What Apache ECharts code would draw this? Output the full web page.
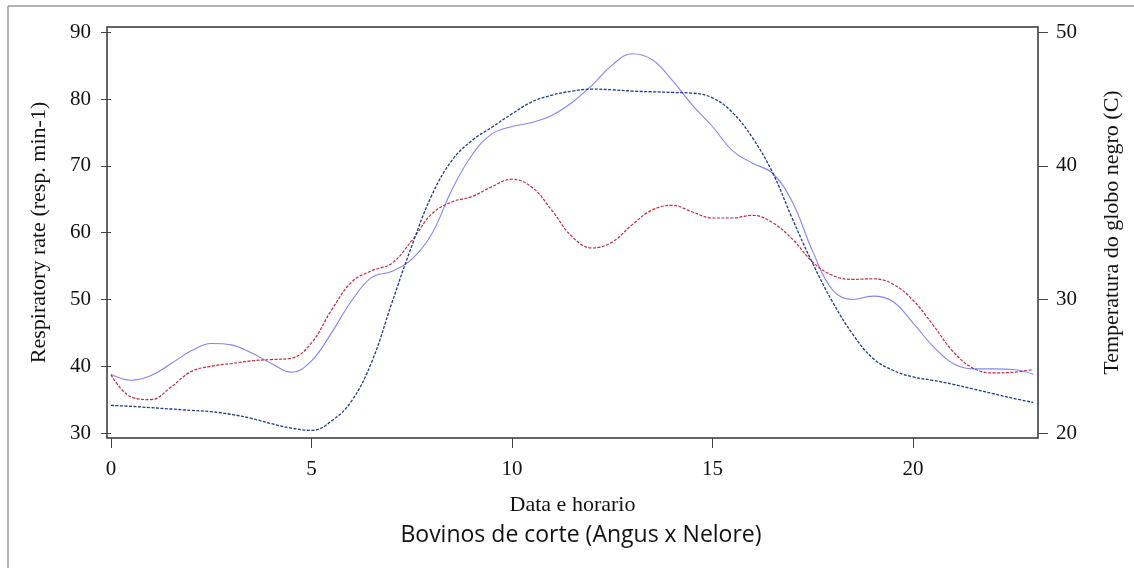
<!DOCTYPE html>
<html><head><meta charset="utf-8">
<script src="https://cdn.jsdelivr.net/npm/echarts@6/dist/echarts.min.js"></script>
<style>html,body{margin:0;padding:0;background:#fff}#c{width:1134px;height:568px}</style>
</head><body><div id="c"></div>
<script>
const hours = [0,0.5,1,1.5,2,2.5,3,3.5,4,4.5,5,5.5,6,6.5,7,7.5,8,8.5,9,9.5,10,10.5,11,11.5,12,12.5,13,13.5,14,14.5,15,15.5,16,16.5,17,17.5,18,18.5,19,19.5,20,20.5,21,21.5,22,22.5,23];
const respA = [38.8,37.9,38.6,40.4,42.3,43.4,43.2,42.0,40.4,39.1,40.8,45.0,49.8,53.3,54.2,56.0,59.8,66.4,71.6,74.8,75.9,76.5,77.6,79.5,82.1,85.1,86.8,85.9,82.8,79.1,75.9,72.3,70.4,68.9,64.5,57.2,51.4,50.0,50.5,49.7,46.5,43.0,40.4,39.6,39.6,39.5,38.8];
const respB = [38.7,35.4,35.0,36.9,39.2,40.0,40.4,40.8,41.0,41.2,43.5,48.4,52.6,54.3,55.4,58.8,62.8,64.6,65.4,66.9,68.0,66.8,63.3,59.4,57.7,58.6,61.2,63.4,64.1,63.1,62.2,62.2,62.6,61.5,59.0,55.6,53.6,53.0,53.1,52.3,49.9,46.2,42.2,39.7,39.0,39.1,39.5];
const globeTemp = [22.07,22.0,21.9,21.8,21.7,21.6,21.4,21.1,20.7,20.37,20.2,20.9,22.4,25.3,29.7,34.0,37.8,40.4,41.9,42.9,43.9,44.8,45.3,45.6,45.75,45.7,45.6,45.55,45.5,45.45,45.1,44.0,42.1,39.5,36.0,32.7,29.8,27.4,25.6,24.7,24.2,23.95,23.65,23.3,22.95,22.6,22.3];
const xTicks = [0,5,10,15,20];
const leftTicks = [30,40,50,60,70,80,90];
const rightTicks = [20,30,40,50];

const serif = '"Liberation Serif","Times New Roman",serif';
const chart = echarts.init(document.getElementById('c'), null, {renderer:'canvas'});
const tickStyle = {show:true, length:10, inside:false, lineStyle:{color:'#444', width:1}};
chart.setOption({
  animation:false,
  backgroundColor:'#fff',
  grid:{left:107, right:96, top:27, bottom:130, show:true, borderColor:'#333', borderWidth:1.5, backgroundColor:'transparent'},
  xAxis:{type:'value', min:-0.1, max:23.12,
    name:'Data e horario', nameLocation:'middle', nameGap:56,
    nameTextStyle:{fontFamily:serif, fontSize:22, color:'#111'},
    axisLine:{show:false},
    axisTick:Object.assign({customValues:xTicks}, tickStyle),
    axisLabel:{customValues:xTicks, margin:21, fontFamily:serif, fontSize:21, color:'#111'},
    splitLine:{show:false}},
  yAxis:[
    {type:'value', position:'left', min:29.25, max:90.8,
     name:'Respiratory rate (resp. min-1)', nameLocation:'middle', nameGap:57,
     nameTextStyle:{fontFamily:serif, fontSize:22, color:'#111'},
     axisLine:{show:false},
     axisTick:Object.assign({customValues:leftTicks}, tickStyle),
     axisLabel:{customValues:leftTicks, margin:16, fontFamily:serif, fontSize:21, color:'#111'},
     splitLine:{show:false}},
    {type:'value', position:'right', min:19.63, max:50.4,
     name:'Temperatura do globo negro (C)', nameLocation:'middle', nameGap:63,
     nameTextStyle:{fontFamily:serif, fontSize:22, color:'#111'},
     axisLine:{show:false},
     axisTick:Object.assign({customValues:rightTicks}, tickStyle),
     axisLabel:{customValues:rightTicks, margin:18, fontFamily:serif, fontSize:21, color:'#111'},
     splitLine:{show:false}}
  ],
  graphic:[
    {type:'line', shape:{x1:8, y1:6, x2:8, y2:568}, style:{stroke:'#9a9a9a', lineWidth:1.5}},
    {type:'line', shape:{x1:8, y1:6, x2:1134, y2:6}, style:{stroke:'#9a9a9a', lineWidth:1.5}},
    {type:'text', x:581, y:535, style:{text:'Bovinos de corte (Angus x Nelore)', fontFamily:'"Open Sans","Noto Sans",sans-serif', fontSize:23, fill:'#111', textAlign:'center', textVerticalAlign:'middle'}}
  ],
  series:[
    {type:'line', yAxisIndex:0, smooth:0.4, showSymbol:false, data:hours.map((h,i)=>[h,respA[i]]),
     lineStyle:{color:'#8585f2', width:1.1, type:'solid'}},
    {type:'line', yAxisIndex:0, smooth:0.4, showSymbol:false, data:hours.map((h,i)=>[h,respB[i]]),
     lineStyle:{color:'#c42a40', width:1.2, type:[3,1.5]}},
    {type:'line', yAxisIndex:1, smooth:0.4, showSymbol:false, data:hours.map((h,i)=>[h,globeTemp[i]]),
     lineStyle:{color:'#1c3c80', width:1.3, type:[3,1.5]}}
  ]
});
</script>
</body></html>
